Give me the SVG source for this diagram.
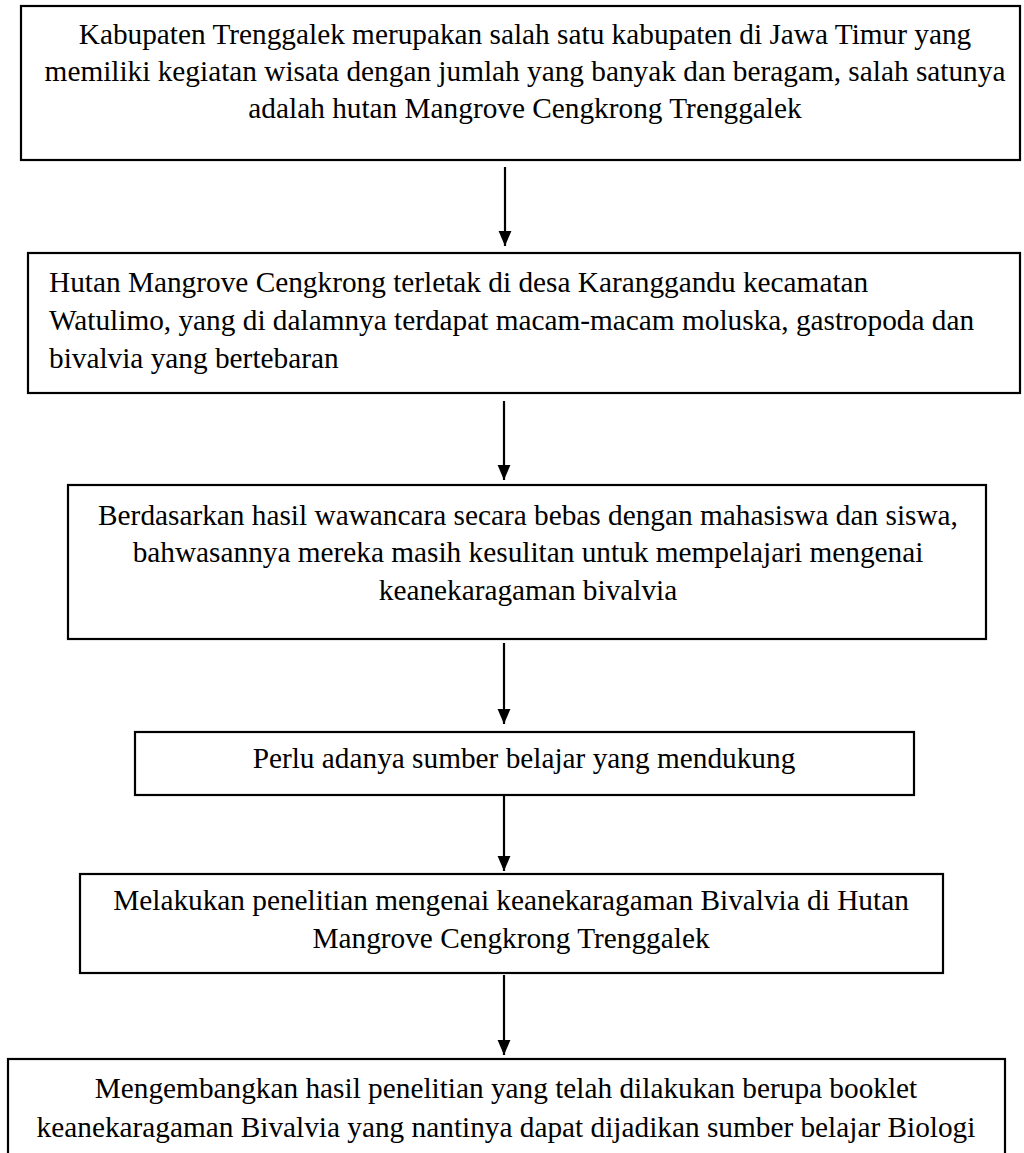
<svg xmlns="http://www.w3.org/2000/svg" width="1024" height="1153" viewBox="0 0 1024 1153">
<style>
.box{fill:#fff;stroke:#000;stroke-width:2.2}
.t{font-family:"Liberation Serif","Times New Roman",serif;font-size:29.3px;fill:#000}
.c{text-anchor:middle}
.line{stroke:#000;stroke-width:2.2;fill:none}
</style>
<defs>
<marker id="ah" markerWidth="7" markerHeight="6" refX="7" refY="3" orient="auto" markerUnits="strokeWidth">
<path d="M0,0 L7,3 L0,6 Z" fill="#000"/>
</marker>
</defs>
<rect width="1024" height="1153" fill="#fff"/>
<g id="node1">
<rect class="box" x="21" y="6" width="999" height="154"/>
<text class="t c" x="525" y="44">Kabupaten Trenggalek merupakan salah satu kabupaten di Jawa Timur yang</text>
<text class="t c" x="525" y="81">memiliki kegiatan wisata dengan jumlah yang banyak dan beragam, salah satunya</text>
<text class="t c" x="525" y="118">adalah hutan Mangrove Cengkrong Trenggalek</text>
</g>
<g id="node2">
<rect class="box" x="28" y="253" width="992" height="140"/>
<text class="t" x="49" y="292">Hutan Mangrove Cengkrong terletak di desa Karanggandu kecamatan</text>
<text class="t" x="49" y="330">Watulimo, yang di dalamnya terdapat macam-macam moluska, gastropoda dan</text>
<text class="t" x="49" y="368">bivalvia yang bertebaran</text>
</g>
<g id="node3">
<rect class="box" x="68" y="485" width="918" height="154"/>
<text class="t c" x="528" y="525">Berdasarkan hasil wawancara secara bebas dengan mahasiswa dan siswa,</text>
<text class="t c" x="528" y="562">bahwasannya mereka masih kesulitan untuk mempelajari mengenai</text>
<text class="t c" x="528" y="600">keanekaragaman bivalvia</text>
</g>
<g id="node4">
<rect class="box" x="135" y="732" width="779" height="63"/>
<text class="t c" x="524" y="768">Perlu adanya sumber belajar yang mendukung</text>
</g>
<g id="node5">
<rect class="box" x="80" y="874" width="863" height="99"/>
<text class="t c" x="511" y="910">Melakukan penelitian mengenai keanekaragaman Bivalvia di Hutan</text>
<text class="t c" x="511" y="948">Mangrove Cengkrong Trenggalek</text>
</g>
<g id="node6">
<rect class="box" x="8" y="1059" width="997" height="110"/>
<text class="t c" x="506" y="1098">Mengembangkan hasil penelitian yang telah dilakukan berupa booklet</text>
<text class="t c" x="506" y="1137">keanekaragaman Bivalvia yang nantinya dapat dijadikan sumber belajar Biologi</text>
</g>
<g id="connectors">
<line class="line" x1="505" y1="167" x2="505" y2="246" marker-end="url(#ah)"/>
<line class="line" x1="504" y1="401" x2="504" y2="480" marker-end="url(#ah)"/>
<line class="line" x1="504" y1="643" x2="504" y2="724" marker-end="url(#ah)"/>
<line class="line" x1="504" y1="795" x2="504" y2="871" marker-end="url(#ah)"/>
<line class="line" x1="504" y1="975" x2="504" y2="1055" marker-end="url(#ah)"/>
</g>
</svg>
